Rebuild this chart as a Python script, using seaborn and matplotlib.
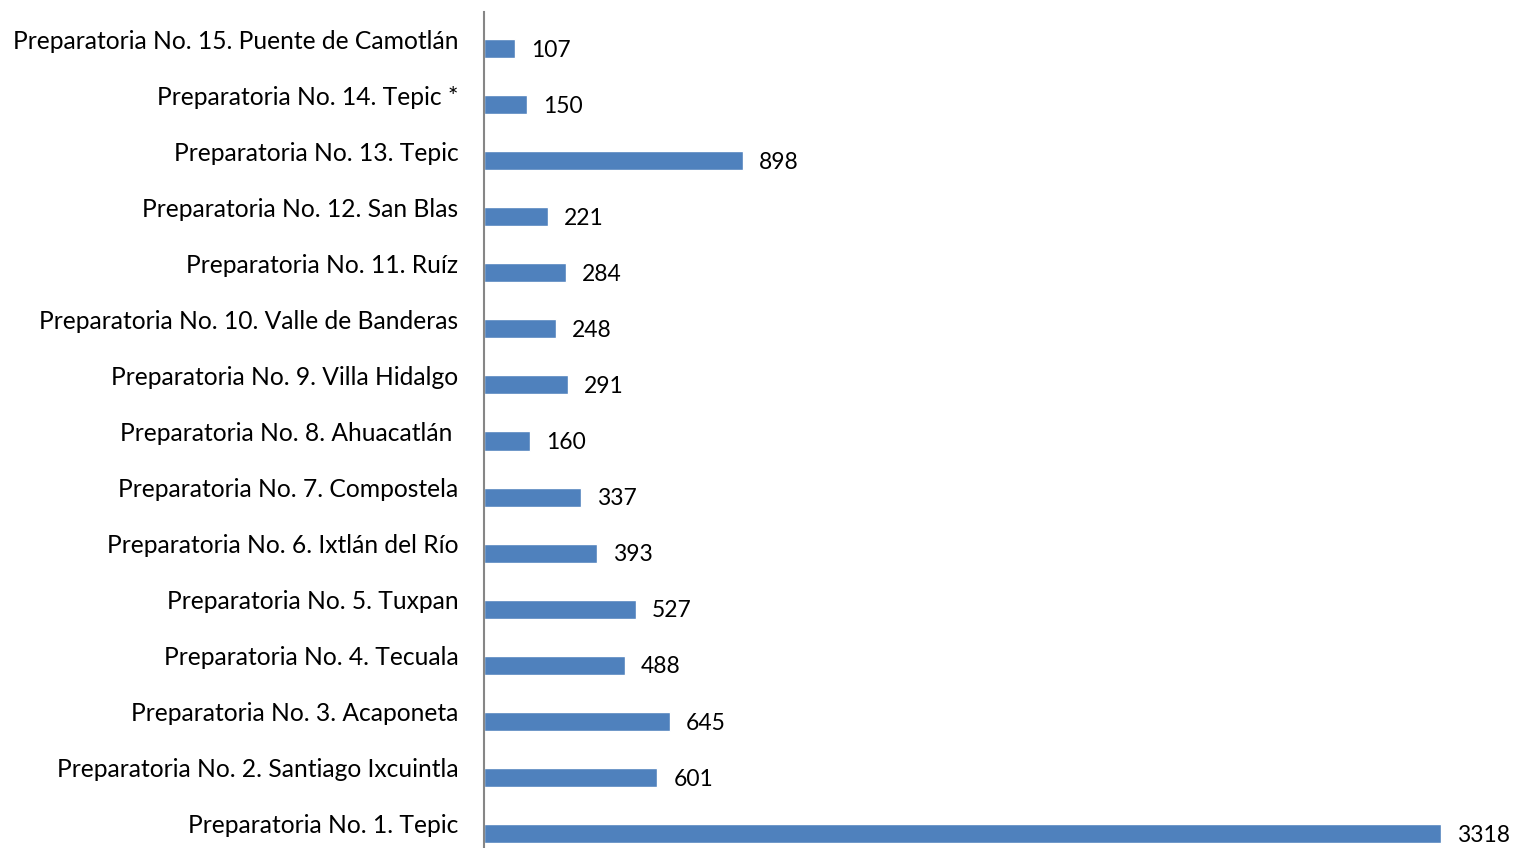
import matplotlib
matplotlib.use("Agg")
import matplotlib.pyplot as plt
import matplotlib.transforms as mtransforms
import seaborn as sns
import pandas as pd

categories = [
    "Preparatoria No. 15. Puente de Camotlán",
    "Preparatoria No. 14. Tepic *",
    "Preparatoria No. 13. Tepic",
    "Preparatoria No. 12. San Blas",
    "Preparatoria No. 11. Ruíz",
    "Preparatoria No. 10. Valle de Banderas",
    "Preparatoria No. 9. Villa Hidalgo",
    "Preparatoria No. 8. Ahuacatlán ",
    "Preparatoria No. 7. Compostela",
    "Preparatoria No. 6. Ixtlán del Río",
    "Preparatoria No. 5. Tuxpan",
    "Preparatoria No. 4. Tecuala",
    "Preparatoria No. 3. Acaponeta",
    "Preparatoria No. 2. Santiago Ixcuintla",
    "Preparatoria No. 1. Tepic",
]
values = [107, 150, 898, 221, 284, 248, 291, 160, 337, 393, 527, 488, 645, 601, 3318]

df = pd.DataFrame({"escuela": categories, "alumnos": values})

sns.set_theme(style="white")
plt.rcParams["font.family"] = ["Lato", "DejaVu Sans"]

W, H = 1514, 848
fig = plt.figure(figsize=(W / 100, H / 100), dpi=100)
ax = fig.add_axes([484 / W, 0, 1 - 484 / W, 1 - 12 / H])

sns.barplot(data=df, y="escuela", x="alumnos", orient="h", color="#4F81BD",
            width=0.34, saturation=1, ax=ax)

ax.set_xlim(0, 1030 / 0.2884)
ax.set_ylim(14.259, -0.651)
ax.set_xlabel("")
ax.set_ylabel("")
ax.set_xticks([])
for s in ["top", "right", "bottom"]:
    ax.spines[s].set_visible(False)
ax.spines["left"].set_color("#868686")
ax.spines["left"].set_linewidth(1.5)

ax.tick_params(axis="y", length=0, pad=18.5, labelsize=17.7, labelcolor="black")
offset = mtransforms.ScaledTranslation(0, 9.5 / 100, fig.dpi_scale_trans)
for lab in ax.get_yticklabels():
    lab.set_transform(lab.get_transform() + offset)

for i, v in enumerate(values):
    ax.annotate(f"{v}", xy=(v, i), xytext=(11.5, -1.2), textcoords="offset points",
                ha="left", va="center", fontsize=16.5, color="black")

fig.savefig("out.png", dpi=100)
